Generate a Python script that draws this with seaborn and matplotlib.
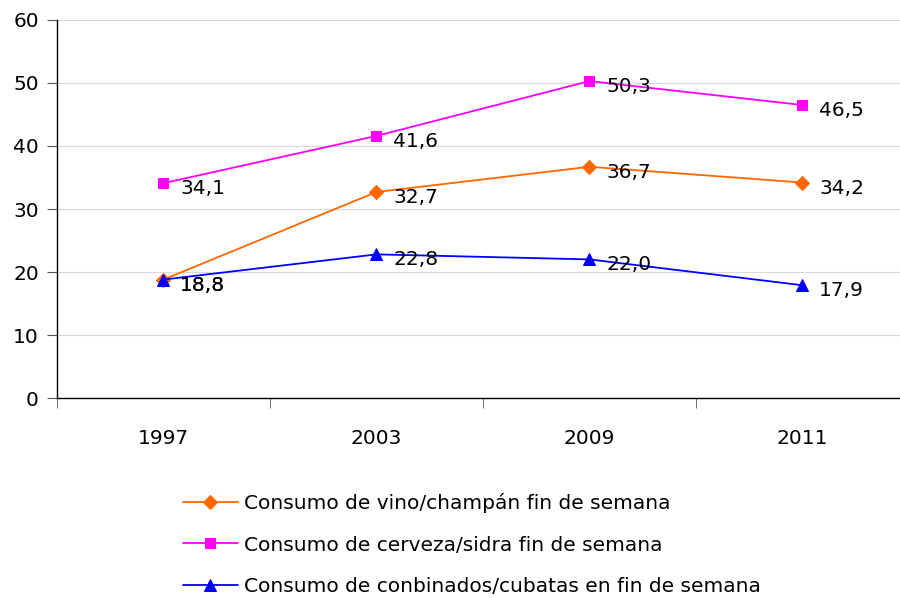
import numpy as np
import pandas as pd
import matplotlib
matplotlib.use("Agg")
import matplotlib.pyplot as plt
import seaborn as sns

# Data
years = ["1997", "2003", "2009", "2011"]
vino = [18.8, 32.7, 36.7, 34.2]
cerveza = [34.1, 41.6, 50.3, 46.5]
combinados = [18.8, 22.8, 22.0, 17.9]
series_names = [
    "Consumo de vino/champán fin de semana",
    "Consumo de cerveza/sidra fin de semana",
    "Consumo de conbinados/cubatas en fin de semana",
]

sns.set_style("white")
plt.rcParams["font.family"] = ["DejaVu Sans"]
plt.rcParams["text.color"] = "black"
plt.rcParams["xtick.color"] = "black"
plt.rcParams["ytick.color"] = "black"
fs = 14.5

fig = plt.figure(figsize=(9, 5.98), dpi=100)
ax = fig.add_axes([0.0633, 0.3344, 0.9367, 0.6322])

x = np.arange(len(years))
styles = [
    (vino, "#FF6600", "D", 7),
    (cerveza, "#FF00FF", "s", 7.5),
    (combinados, "#0000FF", "^", 8.5),
]

for (vals, color, marker, ms), name in zip(styles, series_names):
    sns.lineplot(x=x, y=vals, ax=ax, color=color, marker=marker, markersize=ms,
                 markeredgecolor=color, linewidth=1.3, label=name, legend=False)
    for xi, v in zip(x, vals):
        ax.annotate(f"{v:.1f}".replace(".", ","), (xi, v), xytext=(12, -4),
                    textcoords="offset points", ha="left", va="center",
                    fontsize=fs, color="black")

# Axes styling
ax.set_ylim(0, 60)
ax.set_yticks(range(0, 61, 10))
ax.set_xlim(-0.5, 3.458)
ax.set_xticks(x)
ax.set_xticklabels(years)
ax.set_xticks(np.arange(-0.5, 3.5, 1.0), minor=True)
ax.tick_params(axis="x", which="major", length=0, pad=22, labelsize=fs, labelcolor="black")
ax.tick_params(axis="x", which="minor", length=7, direction="out", color="#555555", bottom=True)
ax.tick_params(axis="y", length=7, direction="out", color="#555555", left=True,
               labelsize=fs, pad=6, labelcolor="black")
for yv in range(10, 61, 10):
    ax.axhline(yv, color="#d9d9d9", linewidth=0.9, zorder=0)
for side in ["top", "right"]:
    ax.spines[side].set_visible(False)
ax.spines["left"].set_color("black")
ax.spines["bottom"].set_color("black")
ax.spines["left"].set_linewidth(1.0)
ax.spines["bottom"].set_linewidth(1.0)

# Legend below
h, l = ax.get_legend_handles_labels()
leg = fig.legend(h, l, loc="upper left", bbox_to_anchor=(0.203, 0.175), frameon=False,
                 fontsize=fs, handlelength=2.75, handletextpad=0.3, labelspacing=1.1,
                 borderaxespad=0, borderpad=0)
for t in leg.get_texts():
    t.set_color("black")

plt.savefig("out.png", dpi=100)
